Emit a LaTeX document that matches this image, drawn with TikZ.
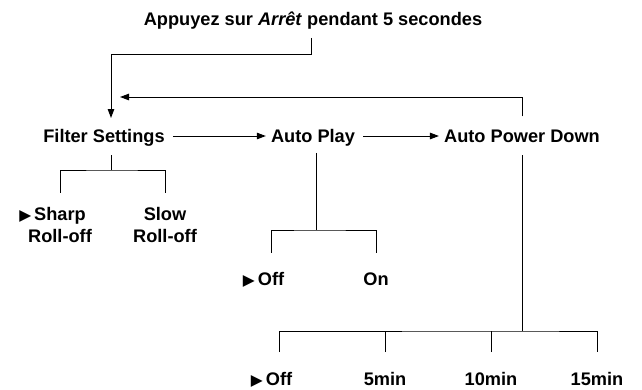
\documentclass[tikz,border=0pt]{standalone}
\usepackage{fontspec}
\setmainfont{Liberation Sans}
\newfontfamily\symfont{DejaVu Sans}
\usetikzlibrary{arrows.meta}
\newcommand{\seltri}{\llap{{\symfont\fontsize{15.5}{15.5}\selectfont ▶}\hspace{3pt}}}
\begin{document}
\begin{tikzpicture}[x=1pt,y=-1pt,
  lbl/.style={font=\bfseries\fontsize{18.2}{22}\selectfont, inner sep=0pt, anchor=base, align=center},
  conn/.style={line width=1pt},
  arr/.style={conn, -{Triangle[length=9pt,width=6.5pt]}}]
\useasboundingbox (0,0) rectangle (642,389);
% labels
\node[lbl] (title) at (313,25) {Appuyez sur \textit{Arrêt} pendant 5 secondes};
\node[lbl] (fs) at (104,142) {Filter Settings};
\node[lbl] (ap) at (313,142) {Auto Play};
\node[lbl] (apd) at (522,142) {Auto Power Down};
\node[lbl] (sharp) at (60,242) {\seltri Sharp\\Roll-off};
\node[lbl] (slow) at (165,242) {Slow\\Roll-off};
\node[lbl] (off1) at (271,285) {\seltri Off};
\node[lbl] (on) at (376,285) {On};
\node[lbl] (off2) at (279,385.5) {\seltri Off};
\node[lbl] (m5) at (385,385.5) {5min};
\node[lbl] (m10) at (491,385.5) {10min};
\node[lbl] (m15) at (597,385.5) {15min};
% junction coordinates
\coordinate (tbend) at (311,54);
\coordinate (fsin) at (111,118);
\coordinate (ret) at (120,97);
\coordinate (fsj) at (111,170);
\coordinate (apj) at (316,230);
\coordinate (apdj) at (522,331);
% entry and loop
\draw[arr] ([yshift=-9pt]title.south -| tbend) -- (tbend) -| (fsin);
\draw[arr] ([yshift=13pt]apd.north) |- (ret);
% main row
\draw[arr] ([xshift=8pt,yshift=6pt]fs.base east) -- ([xshift=-5pt,yshift=6pt]ap.base west);
\draw[arr] ([xshift=8pt,yshift=6pt]ap.base east) -- ([xshift=-5pt,yshift=6pt]apd.base west);
% filter subtree
\draw[conn] ([yshift=-9pt]fs.south -| fsj) -- (fsj);
\draw[conn] ([yshift=14pt]sharp.north) |- (fsj) -| ([yshift=14pt]slow.north);
% auto play subtree
\draw[conn] ([yshift=-7pt]ap.south -| apj) -- (apj);
\draw[conn] ([yshift=19pt]off1.north) |- (apj) -| ([yshift=19pt]on.north);
% auto power down subtree
\draw[conn] ([yshift=-13pt]apd.south) -- (apdj);
\draw[conn] ([yshift=20pt]off2.north) |- (apdj) -| ([yshift=20pt]m15.north);
\draw[conn] ([yshift=20pt]m5.north) -- (m5.north |- apdj);
\draw[conn] ([yshift=20pt]m10.north) -- (m10.north |- apdj);
\end{tikzpicture}
\end{document}
